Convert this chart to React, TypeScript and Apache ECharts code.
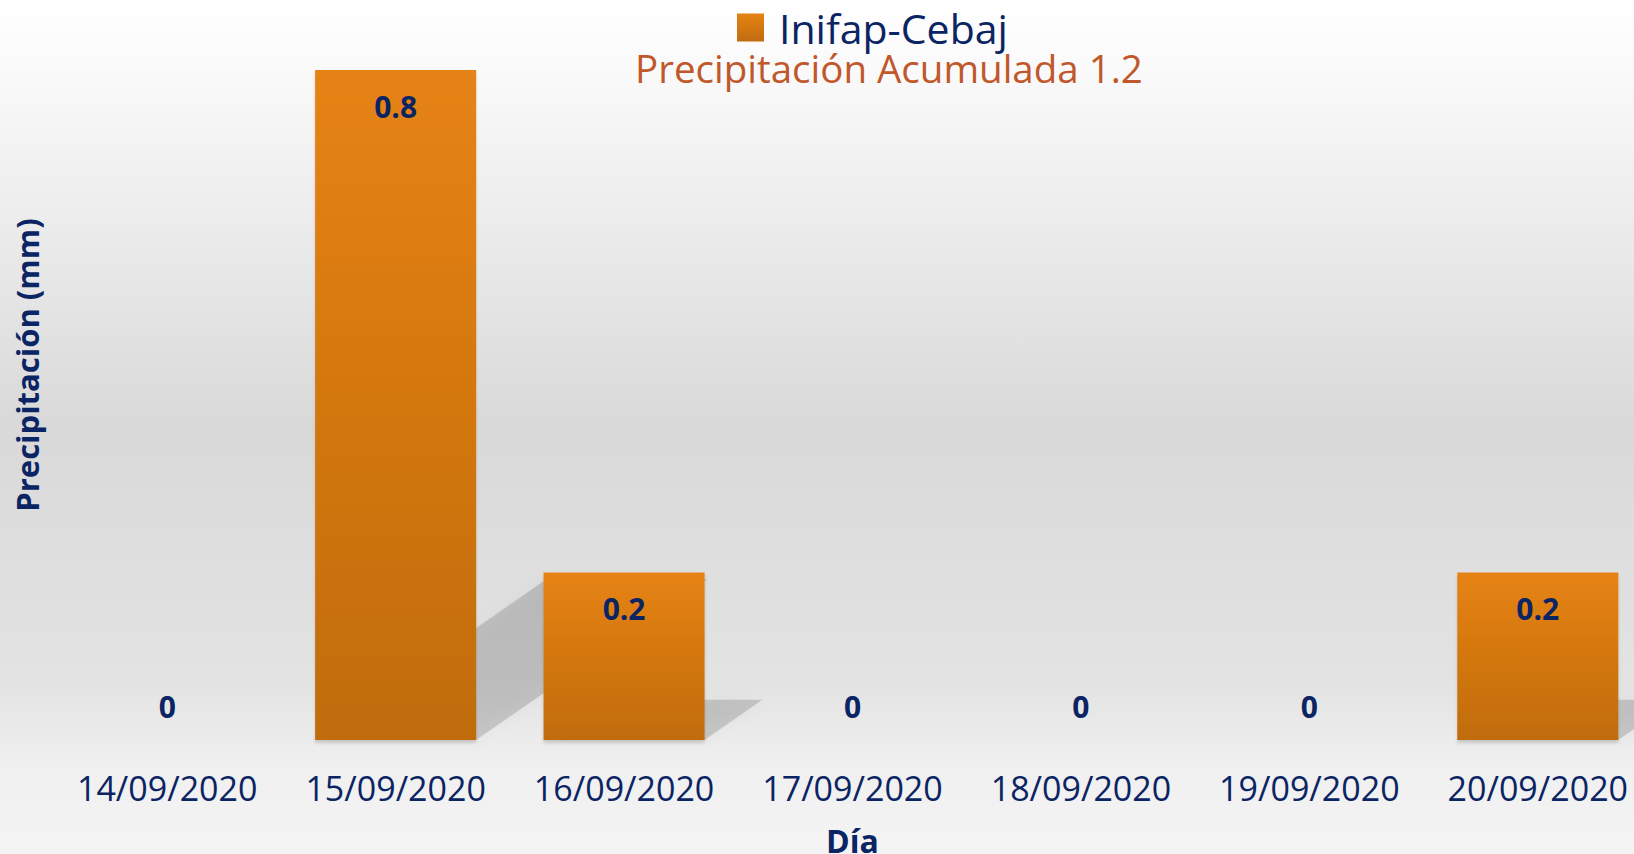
import React, { useEffect, useRef } from "react";
import * as echarts from "echarts";

const categories = [
  "14/09/2020",
  "15/09/2020",
  "16/09/2020",
  "17/09/2020",
  "18/09/2020",
  "19/09/2020",
  "20/09/2020",
];
const precipitation = [0, 0.8, 0.2, 0, 0, 0, 0.2];
const seriesName = "Inifap-Cebaj";
const titleText = "Precipitación Acumulada 1.2";
const yAxisName = "Precipitación (mm)";
const xAxisName = "Día";

const FONT = "'Open Sans', 'Noto Sans', sans-serif";
const NAVY = "#0B2463";
const BAR_RATIO = 0.705;

export default function App() {
  const ref = useRef<HTMLDivElement>(null);

  useEffect(() => {
    document.body.style.margin = "0";
    if (!ref.current) return;
    const chart = echarts.init(ref.current, undefined, { renderer: "svg" });

    const barGradient = new echarts.graphic.LinearGradient(0, 0, 0, 1, [
      { offset: 0, color: "#E68312" },
      { offset: 1, color: "#C06C10" },
    ]);

    const barData = precipitation.map((v) => ({
      value: v,
      label:
        v === 0
          ? { position: "top", distance: 19 }
          : { position: "insideTop", distance: 21 },
    }));

    const shadowData = precipitation.map((v, i) => [i, v]);

    chart.setOption({
      animation: false,
      backgroundColor: new echarts.graphic.LinearGradient(0, 0, 0, 1, [
        { offset: 0, color: "#ffffff" },
        { offset: 0.08, color: "#fafafa" },
        { offset: 0.5, color: "#d9d9d9" },
        { offset: 0.8, color: "#e3e3e3" },
        { offset: 0.9, color: "#f0f0f0" },
        { offset: 1, color: "#f4f4f4" },
      ]),
      title: {
        text: titleText,
        left: 635,
        top: 48,
        padding: 0,
        textStyle: {
          fontFamily: FONT,
          fontSize: 38.5,
          fontWeight: 500,
          color: "#C0582B",
        },
      },
      legend: {
        data: [seriesName],
        left: 737,
        top: 7,
        padding: 0,
        icon: "rect",
        itemWidth: 27,
        itemHeight: 28,
        textStyle: {
          fontFamily: FONT,
          fontSize: 41,
          color: NAVY,
          padding: [0, 0, 0, 10],
        },
      },
      grid: {
        left: 53,
        top: 70,
        width: 1599,
        height: 670,
        containLabel: false,
        outerBoundsMode: "none",
      },
      xAxis: {
        type: "category",
        data: categories,
        name: xAxisName,
        nameLocation: "middle",
        nameGap: 84,
        nameTextStyle: {
          fontFamily: FONT,
          fontSize: 32,
          fontWeight: "bold",
          color: NAVY,
        },
        axisLine: { show: false },
        axisTick: { show: false },
        axisLabel: {
          fontFamily: FONT,
          fontSize: 34,
          color: NAVY,
          margin: 31,
          interval: 0,
        },
        splitLine: { show: false },
      },
      yAxis: {
        type: "value",
        min: 0,
        max: 0.8,
        show: false,
      },
      graphic: [
        {
          type: "text",
          x: 27,
          y: 365,
          rotation: Math.PI / 2,
          style: {
            text: yAxisName,
            fontFamily: FONT,
            fontSize: 31,
            fontWeight: "bold",
            fill: NAVY,
            textAlign: "center",
            textVerticalAlign: "middle",
          },
        },
      ],
      series: [
        {
          type: "custom",
          name: "shadow",
          z: 1,
          silent: true,
          data: shadowData,
          renderItem: (params: any, api: any) => {
            const idx = api.value(0);
            const val = api.value(1);
            if (!val) return null;
            const base = api.coord([idx, 0]);
            const top = api.coord([idx, val]);
            const bw = api.size([1, 0])[0] * BAR_RATIO;
            const h = base[1] - top[1];
            const dx = 0.345 * h;
            const dy = 0.24 * h;
            const x0 = base[0] - bw / 2;
            const x1 = base[0] + bw / 2;
            const by = base[1];
            return {
              type: "polygon",
              shape: {
                points: [
                  [x0, by],
                  [x1, by],
                  [x1 + dx, by - dy],
                  [x0 + dx, by - dy],
                ],
              },
              style: {
                fill: "rgba(0,0,0,0.15)",
                shadowBlur: 14,
                shadowColor: "rgba(0,0,0,0.18)",
              },
            };
          },
        },
        {
          type: "bar",
          name: seriesName,
          z: 2,
          data: barData,
          barWidth: BAR_RATIO * 100 + "%",
          itemStyle: {
            color: barGradient,
            shadowColor: "rgba(0,0,0,0.15)",
            shadowBlur: 3,
            shadowOffsetY: 3,
          },
          label: {
            show: true,
            fontFamily: FONT,
            fontSize: 30,
            lineHeight: 30,
            fontWeight: "bold",
            color: NAVY,
          },
        },
      ],
    });

    return () => {
      chart.dispose();
    };
  }, []);

  return (
    <div style={{ width: 1634, height: 854, overflow: "hidden", position: "relative" }}>
      <div ref={ref} style={{ width: 1680, height: 854 }} />
    </div>
  );
}
